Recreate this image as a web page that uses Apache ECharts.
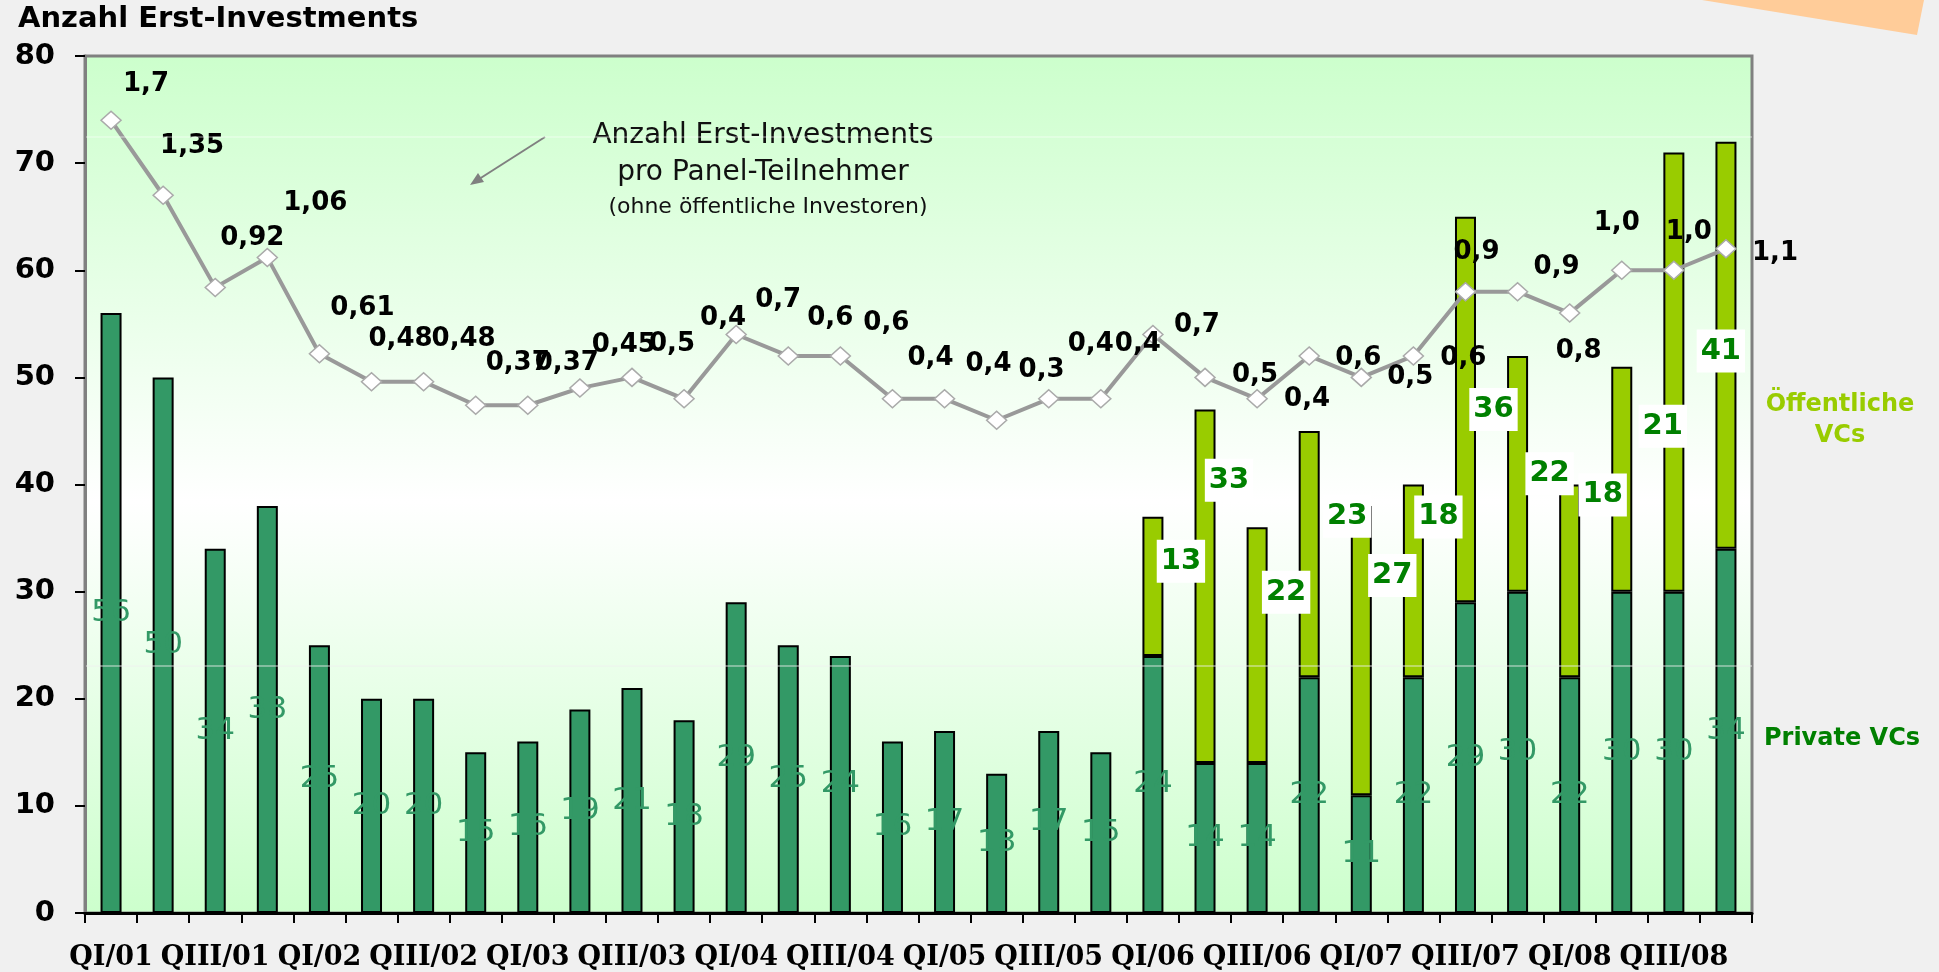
<!DOCTYPE html>
<html>
<head>
<meta charset="utf-8">
<style>
  html, body { margin: 0; padding: 0; background: #f0f0f0; }
  #chart { width: 1939px; height: 972px; }
</style>
<script src="https://cdn.jsdelivr.net/npm/echarts@6/dist/echarts.min.js"></script>
</head>
<body>
<div id="chart"></div>
<script>
// quarters QI/01 .. QIV/08
var quarters = [
    'QI/01', 'QII/01', 'QIII/01', 'QIV/01', 'QI/02', 'QII/02', 'QIII/02', 'QIV/02',
    'QI/03', 'QII/03', 'QIII/03', 'QIV/03', 'QI/04', 'QII/04', 'QIII/04', 'QIV/04',
    'QI/05', 'QII/05', 'QIII/05', 'QIV/05', 'QI/06', 'QII/06', 'QIII/06', 'QIV/06',
    'QI/07', 'QII/07', 'QIII/07', 'QIV/07', 'QI/08', 'QII/08', 'QIII/08', 'QIV/08'
]
var privateVCs = [56, 50, 34, 38, 25, 20, 20, 15, 16, 19, 21, 18, 29, 25, 24, 16,
    17, 13, 17, 15, 24, 14, 14, 22, 11, 22, 29, 30, 22, 30, 30, 34]
var publicVCs = [null, null, null, null, null, null, null, null, null, null, null, null,
    null, null, null, null, null, null, null, null, 13, 33, 22, 23, 27, 18, 36, 22, 18, 21, 41, 38]
// line drawn on the left scale, labelled with the per-participant ratio
var perParticipantLine = [74, 67, 58.4, 61.2, 52.2, 49.6, 49.6, 47.4, 47.4, 49, 50, 48, 54, 52, 52, 48,
    48, 46, 48, 48, 54, 50, 48, 52, 50, 52, 58, 58, 56, 60, 60, 62]
var perParticipantLabels = ['1,7', '1,35', '0,92', '1,06', '0,61', '0,48', '0,48', '0,37', '0,37', '0,45', '0,5', '0,4',
    '0,7', '0,6', '0,6', '0,4', '0,4', '0,3', '0,4', '0,4', '0,7', '0,5', '0,4', '0,6', '0,5', '0,6',
    '0,9', '0,9', '0,8', '1,0', '1,0', '1,1']

// label placement (hand placed in the original slide)
var lineLabelOffsets = [[35, -36], [29, -49], [37, -49], [48, -54], [43, -46], [29, -42], [40, -42], [42, -42],
    [39, -42], [44, -43], [40, -33], [39, -81], [42, -34], [42, -38], [46, -33], [38, -41], [44, -35], [45, -50],
    [42, -55], [37, -55], [44, -9], [50, -2], [50, 0], [49, 2], [49, 0], [50, 2], [11, -39], [39, -24], [9, 38],
    [-5, -47], [15, -38], [49, 4]]
var pubLabelOffsets = [[28, -25], [24, -106], [29, -53], [38, -38], [31, -75], [25, -64], [28, 0], [32, 0],
    [33, -86], [41, -53], [47, -21], [0, 0]]

var echart = echarts.init(document.getElementById('chart'))

var pubData = publicVCs.map(function (v, i) {
    if (v === null) return v
    var k = i - 20
    return {
        value: v,
        label: { show: k < 11, offset: pubLabelOffsets[k] }
    }
})
var lineData = perParticipantLine.map(function (v, i) {
    return { value: v, label: { offset: lineLabelOffsets[i] } }
})

var option = {
    backgroundColor: '#f0f0f0',
    animation: false,
    grid: {
        left: 85,
        right: 187,
        top: 56,
        bottom: 59,
        show: true,
        borderColor: '#808080',
        borderWidth: 3,
        backgroundColor: new echarts.graphic.LinearGradient(0, 0, 0, 1, [
            { offset: 0, color: '#ccffcc' },
            { offset: 0.52, color: '#ffffff' },
            { offset: 1, color: '#ccffcc' }
        ])
    },
    xAxis: {
        type: 'category',
        data: quarters,
        axisLine: { lineStyle: { color: '#000', width: 3 } },
        axisTick: { show: true, length: 10, interval: 0, lineStyle: { color: '#000', width: 2 } },
        axisLabel: {
            interval: 1,
            margin: 31,
            color: '#000',
            fontFamily: 'DejaVu Serif',
            fontWeight: 'bold',
            fontSize: 27
        },
        splitLine: { show: false }
    },
    yAxis: {
        type: 'value',
        min: 0,
        max: 80,
        interval: 10,
        axisLine: { show: true, lineStyle: { color: '#808080', width: 3 } },
        axisTick: { show: true, length: 10, lineStyle: { color: '#000', width: 2 } },
        axisLabel: {
            margin: 30,
            color: '#000',
            fontFamily: 'DejaVu Sans',
            fontWeight: 'bold',
            fontSize: 29
        },
        splitLine: { show: false }
    },
    series: [
        {
            name: 'Private VCs',
            type: 'bar',
            stack: 'vc',
            barWidth: 21,
            z: 2,
            itemStyle: { color: '#339966', borderColor: '#000', borderWidth: 2 },
            label: {
                show: true,
                position: 'inside',
                color: '#339966',
                fontFamily: 'DejaVu Sans',
                fontSize: 31,
                textShadowColor: '#339966',
                textShadowOffsetX: 4,
                textShadowBlur: 0
            },
            data: privateVCs
        },
        {
            name: 'Öffentliche VCs',
            type: 'bar',
            stack: 'vc',
            barWidth: 21,
            z: 2,
            itemStyle: { color: '#99cc00', borderColor: '#000', borderWidth: 2 },
            label: {
                show: true,
                position: 'inside',
                color: '#008000',
                backgroundColor: '#fff',
                padding: [7, 4],
                fontFamily: 'DejaVu Sans',
                fontWeight: 'bold',
                fontSize: 29
            },
            data: pubData
        },
        {
            name: 'Erst-Investments pro Panel-Teilnehmer',
            type: 'line',
            z: 4,
            symbol: 'diamond',
            symbolSize: [20, 18],
            lineStyle: { color: '#999999', width: 4 },
            itemStyle: { color: '#ffffff', borderColor: '#aaaaaa', borderWidth: 1.5 },
            label: {
                show: true,
                position: 'inside',
                color: '#000',
                fontFamily: 'DejaVu Sans',
                fontWeight: 'bold',
                fontSize: 26,
                formatter: function (p) { return perParticipantLabels[p.dataIndex] }
            },
            data: lineData
        }
    ],
    graphic: [
        {
            type: 'polygon',
            shape: { points: [[1702, 0], [1924, 0], [1917, 35]] },
            style: { fill: '#ffcc99' }
        },
        {
            type: 'text',
            left: 18,
            top: 5,
            style: {
                text: 'Anzahl Erst-Investments',
                fill: '#000',
                font: 'bold 29px "DejaVu Sans"'
            }
        },
        {
            type: 'text',
            x: 763,
            y: 117,
            style: {
                text: 'Anzahl Erst-Investments\npro Panel-Teilnehmer',
                fill: '#111',
                font: '28px "DejaVu Sans"',
                align: 'center',
                lineHeight: 37
            }
        },
        {
            type: 'text',
            x: 768,
            y: 196,
            style: {
                text: '(ohne öffentliche Investoren)',
                fill: '#111',
                font: '22px "DejaVu Sans"',
                align: 'center'
            }
        },
        {
            type: 'line',
            shape: { x1: 545, y1: 137, x2: 476, y2: 181 },
            style: { stroke: '#808080', lineWidth: 2 }
        },
        {
            type: 'polygon',
            shape: { points: [[470, 185], [484, 182], [478, 173]] },
            style: { fill: '#808080' }
        },
        {
            type: 'text',
            x: 1840,
            y: 389,
            style: {
                text: 'Öffentliche\nVCs',
                fill: '#99cc00',
                font: 'bold 24px "DejaVu Sans"',
                align: 'center',
                lineHeight: 31
            }
        },
        {
            type: 'text',
            x: 1842,
            y: 727,
            style: {
                text: 'Private VCs',
                fill: '#008000',
                font: 'bold 24px "DejaVu Sans"',
                align: 'center'
            }
        },
        {
            type: 'line',
            z: 10,
            shape: { x1: 86, y1: 137, x2: 1752, y2: 137 },
            style: { stroke: 'rgba(255,255,255,0.6)', lineWidth: 1 }
        },
        {
            type: 'line',
            z: 10,
            shape: { x1: 86, y1: 666, x2: 1752, y2: 666 },
            style: { stroke: 'rgba(240,240,240,0.85)', lineWidth: 1 }
        }
    ]
}
echart.setOption(option)
</script>
</body>
</html>
